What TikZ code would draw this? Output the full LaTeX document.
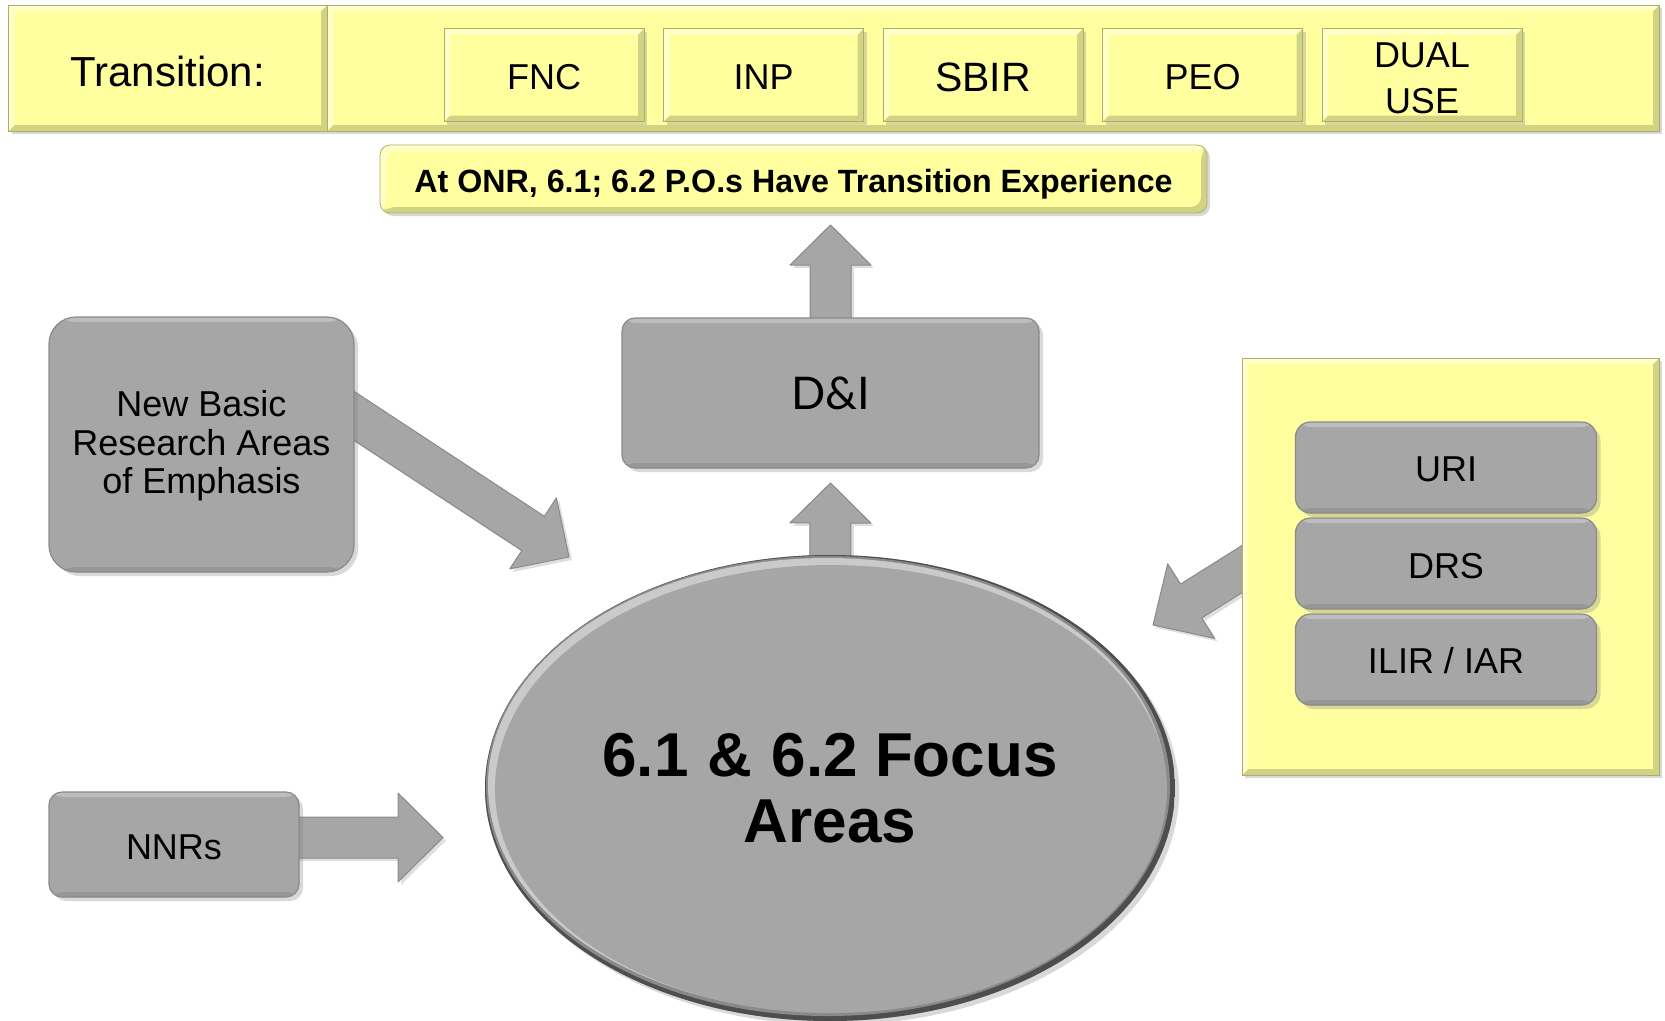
\documentclass[tikz,border=0pt]{standalone}
\usepackage{fontspec}
\setmainfont{Liberation Sans}
\newfontfamily\dnifont{Lato}
\usetikzlibrary{calc,shapes.geometric,shadows,backgrounds}
\definecolor{ylw}{HTML}{FFFFA0}
\definecolor{ylwdark}{HTML}{D2D285}
\definecolor{ylwlight}{HTML}{FFFFC8}
\definecolor{ylwline}{HTML}{AEAE6C}
\definecolor{gry}{HTML}{A6A6A6}
\definecolor{grydark}{HTML}{8A8A8A}
\definecolor{grydeep}{HTML}{4E4E4E}
\definecolor{grylight}{HTML}{BDBDBD}
\definecolor{grybright}{HTML}{CACACA}
\definecolor{grybot}{HTML}{979797}
\newcommand\dn[2][3pt]{\raisebox{-#1}[\height][\depth]{#2}}
\newcommand\ybevel{%
 \fill[ylwdark] (path picture bounding box.south west) -- (path picture bounding box.south east) -- (path picture bounding box.north east) -- ([shift={(-6pt,-6pt)}]path picture bounding box.north east) -- ([shift={(-6pt,6pt)}]path picture bounding box.south east) -- ([shift={(6pt,6pt)}]path picture bounding box.south west) -- cycle;
 \fill[ylwlight] (path picture bounding box.south west) -- (path picture bounding box.north west) -- (path picture bounding box.north east) -- ([shift={(-6pt,-6pt)}]path picture bounding box.north east) -- ([shift={(6pt,-6pt)}]path picture bounding box.north west) -- ([shift={(6pt,6pt)}]path picture bounding box.south west) -- cycle;}
\newcommand\gbevel{%
 \fill[grylight] ([yshift=-5pt]path picture bounding box.north west) rectangle (path picture bounding box.north east);
 \fill[grybot] ([yshift=5pt]path picture bounding box.south west) rectangle (path picture bounding box.south east);}
\newcommand\ebevel{%
 \fill[grydeep] (path picture bounding box.south west) rectangle (path picture bounding box.north east);
 \fill[grydark] ([shift={(-2pt,2pt)}]path picture bounding box.center) ellipse [x radius=342pt, y radius=230pt];
 \fill[grybright] ([shift={(-3pt,3pt)}]path picture bounding box.center) ellipse [x radius=339pt, y radius=227pt];
 \fill[gry] ([shift={(1pt,-1pt)}]path picture bounding box.center) ellipse [x radius=336pt, y radius=224pt];}
% fat arrow: start, tip, half shaft, half head, head length
\newcommand\fatarrow[5]{%
 \coordinate (fa-b) at ($(#2)!#5!(#1)$);
 \fill[arrowfill] ($(#1)!#3!90:(#2)$) -- ($(fa-b)!#3!90:(#2)$) -- ($(fa-b)!#4!90:(#2)$) -- (#2) -- ($(fa-b)!#4!-90:(#2)$) -- ($(fa-b)!#3!-90:(#2)$) -- ($(#1)!#3!-90:(#2)$) -- cycle;}
\tikzset{
 arrowfill/.style={fill=gry, draw=grydark, line width=1pt, line join=round, drop shadow={opacity=0.25,shadow xshift=3pt,shadow yshift=-3pt}},
 ybox/.style={rectangle, fill=ylw, draw=ylwline, line width=0.8pt, inner sep=0pt, align=center,
   drop shadow={opacity=0.3,shadow xshift=3pt,shadow yshift=-3pt}, path picture={\ybevel}},
 gbox/.style={rectangle, rounded corners=#1, fill=gry, draw=grydark, line width=1.2pt, inner sep=0pt, align=center,
   drop shadow={opacity=0.3,shadow xshift=4pt,shadow yshift=-4pt}, path picture={\gbevel}},
 gbox/.default=13pt,
 tA/.style={font=\fontsize{36}{38.5}\selectfont},
 tB/.style={font=\fontsize{36}{46}\selectfont},
}
\begin{document}
\begin{tikzpicture}[x=1pt,y=-1pt]
\useasboundingbox (0,0) rectangle (1665,1020);
% top bar
\node[ybox, minimum width=318.5pt, minimum height=126pt, font=\fontsize{42}{48}\selectfont] (trans) at (167.75,68) {\dn{Transition:}};
\node[ybox, minimum width=1332pt, minimum height=126pt] (bar) at (993,68) {};
\node[ybox, minimum width=200pt, minimum height=93pt, tB] (fnc) at (544,75) {\dn[2pt]{FNC}};
\node[ybox, minimum width=200pt, minimum height=93pt, tB] (inp) at (763.5,75) {\dn[2pt]{INP}};
\node[ybox, minimum width=200pt, minimum height=93pt, font=\fontsize{41}{48}\selectfont] (sbir) at (983,75) {\dn[2pt]{SBIR}};
\node[ybox, minimum width=200pt, minimum height=93pt, tB] (peo) at (1202.5,75) {\dn[2pt]{PEO}};
\node[ybox, minimum width=200pt, minimum height=93pt, tB] (dual) at (1422,75) {\dn[6pt]{\begin{tabular}{@{}c@{}}DUAL\\USE\end{tabular}}};
% ONR box
\node[ybox, rounded corners=10pt, minimum width=827pt, minimum height=68pt, font=\bfseries\fontsize{32.2}{36}\selectfont] (onr) at (793.5,179) {\dn[5pt]{At ONR, 6.1; 6.2 P.O.s Have Transition Experience}};
% D&I
\node[gbox, minimum width=417pt, minimum height=150pt, font=\dnifont\fontsize{45}{50}\selectfont] (dni) at (830.5,393) {D\&I};
% New Basic
\node[gbox=27pt, minimum width=305pt, minimum height=255pt, tA] (nb) at (201.5,444.5) {\dn{\begin{tabular}{@{}c@{}}New Basic\\Research Areas\\of Emphasis\end{tabular}}};
% NNRs
\node[gbox, minimum width=250pt, minimum height=105pt, tA] (nnrs) at (174,844.5) {\dn{NNRs}};
% focus ellipse
\node[ellipse, fill=gry, minimum width=690pt, minimum height=466pt, inner sep=0pt, align=center,
  drop shadow={opacity=0.3,shadow xshift=4pt,shadow yshift=-4pt}, path picture={\ebevel},
  font=\bfseries\fontsize{62}{66}\selectfont] (focus) at (830,788) {6.1 \kern2pt\& \kern2pt6.2 Focus\\Areas};
% right panel
\node[ybox, minimum width=417pt, minimum height=417pt] (panel) at (1450.5,566.5) {};
\node[gbox=15pt, minimum width=301pt, minimum height=91pt, tA] (uri) at (1446,467.5) {\dn[2pt]{URI}};
\node[gbox=15pt, minimum width=301pt, minimum height=91pt, tA] (drs) at (1446,563.5) {\dn{DRS}};
\node[gbox=15pt, minimum width=301pt, minimum height=91pt, tA] (ilir) at (1446,659.5) {\dn[1pt]{ILIR / IAR}};
% arrows
\coordinate (t1) at (dni.center |- 0,225);
\coordinate (t2) at (dni.center |- 0,483);
\coordinate (nbs) at (304,383);
\coordinate (nbt) at (569,557);
\coordinate (nns) at (200,837.5);
\coordinate (nnt) at (443,837.5);
\coordinate (rps) at (1266,554);
\coordinate (rpt) at (1153,625);
\begin{pgfonlayer}{background}
\fatarrow{dni.center}{t1}{20.5pt}{40.5pt}{40pt}
\fatarrow{focus.center}{t2}{20.5pt}{40.5pt}{40pt}
\fatarrow{nbs}{nbt}{20.5pt}{42.5pt}{43pt}
\fatarrow{nns}{nnt}{20.5pt}{44.5pt}{45pt}
\fatarrow{rps}{rpt}{20pt}{44pt}{45pt}
\end{pgfonlayer}
\end{tikzpicture}
\end{document}
